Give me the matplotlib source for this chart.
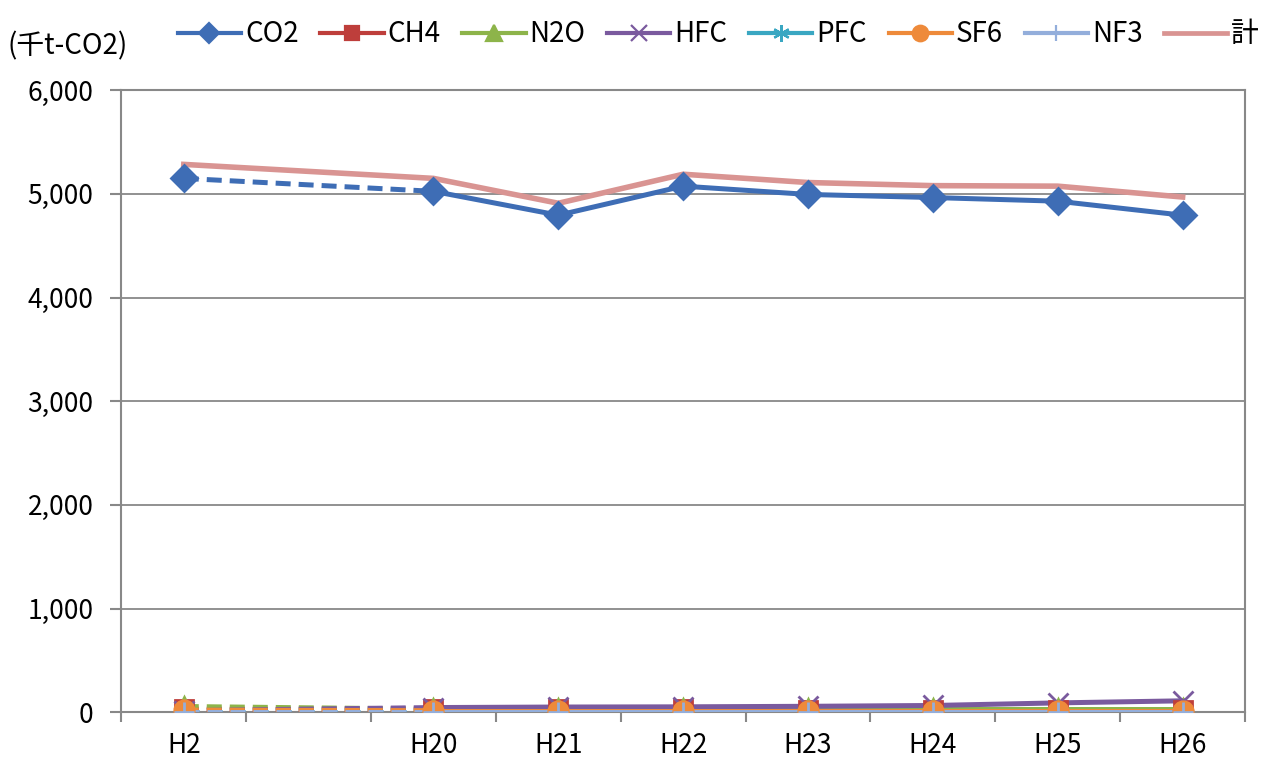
import matplotlib

matplotlib.use("Agg")
import matplotlib.pyplot as plt
import numpy as np

plt.rcParams["font.family"] = ["Noto Sans CJK JP", "DejaVu Sans"]

# categories (blank slot between H2 and H20)
categories = ["H2", "", "H20", "H21", "H22", "H23", "H24", "H25", "H26"]
cat_idx = [0, 2, 3, 4, 5, 6, 7, 8]

co2 = [5150, 5025, 4795, 5075, 4995, 4965, 4930, 4795]
ch4 = [30, 28, 27, 27, 26, 26, 25, 25]
n2o = [55, 30, 30, 30, 30, 30, 30, 30]
hfc = [15, 45, 50, 52, 57, 65, 90, 110]
pfc = [5, 5, 5, 5, 5, 5, 5, 5]
sf6 = [20, 15, 15, 15, 15, 15, 15, 15]
nf3 = [1, 1, 1, 1, 1, 1, 1, 1]
total = [5285, 5150, 4910, 5190, 5110, 5080, 5075, 4970]

series = [
    ("CO2", co2, "#3E6DB5", "D", 13),
    ("CH4", ch4, "#BE3E3B", "s", 13),
    ("N2O", n2o, "#8DB44A", "^", 14),
    ("HFC", hfc, "#7A5A9E", "x", 14),
    ("PFC", pfc, "#3AA7C2", (6, 2, 0), 15),
    ("SF6", sf6, "#EE8A3A", "o", 14),
    ("NF3", nf3, "#93AEDB", "+", 15),
]

fig = plt.figure(figsize=(12.64, 7.65), dpi=100)
ax = fig.add_axes([0.096, 0.069, 0.889, 0.813])

x = np.array(cat_idx)
handles = []
for name, vals, color, mk, ms in series:
    vals = np.array(vals, dtype=float)
    # dashed link from H2 to H20, solid afterwards
    ax.plot(x[:2], vals[:2], color=color, lw=3.6, ls=(0, (3.0, 1.6)), zorder=3)
    ax.plot(x[1:], vals[1:], color=color, lw=3.6, zorder=3)
    ax.plot(x, vals, ls="none", marker=mk, ms=ms, color=color,
            mec=color, mew=2, zorder=4)
    lh, = ax.plot([], [], color=color, lw=3, marker=mk, ms=ms * 0.8,
                  mec=color, mew=1.6)
    handles.append((lh, name))

th, = ax.plot(x, total, color="#D99492", lw=4, zorder=2)
lt, = ax.plot([], [], color="#D99492", lw=3.4)
handles.append((lt, "計"))

ax.set_xlim(-0.5, len(categories) - 0.5)
ax.set_ylim(0, 6000)
ax.set_yticks(np.arange(0, 6001, 1000))
ax.set_yticklabels([f"{v:,}" for v in range(0, 6001, 1000)], fontsize=19)
ax.set_xticks(range(len(categories)))
ax.set_xticklabels(categories, fontsize=19)
ax.set_xticks(np.arange(-0.5, len(categories), 1), minor=True)
ax.tick_params(axis="x", which="major", length=0, pad=14)
ax.tick_params(axis="x", which="minor", length=7, color="#888888", width=1.5)
ax.tick_params(axis="y", length=8, color="#888888", width=1.5, pad=12)
ax.yaxis.grid(True, color="#888888", lw=1.3)
ax.set_axisbelow(True)
for s in ax.spines.values():
    s.set_color("#888888")
    s.set_linewidth(1.5)

fig.text(0.006, 0.94, "(千t-CO2)", fontsize=20, ha="left", va="center")

fig.legend([h for h, _ in handles], [n for _, n in handles],
           loc="center left", bbox_to_anchor=(0.132, 0.955), ncol=8,
           frameon=False, fontsize=20, handlelength=2.27, handletextpad=0.15,
           columnspacing=0.78, borderaxespad=0)

fig.savefig("out.png", dpi=100, facecolor="white")
